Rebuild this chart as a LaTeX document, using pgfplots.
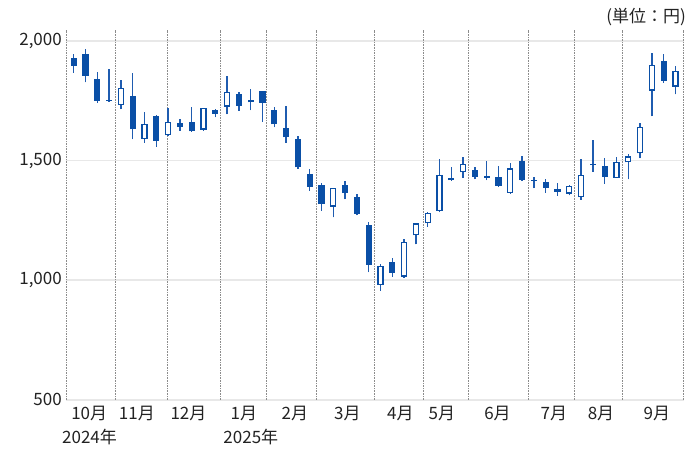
\documentclass[border=0pt]{standalone}
\usepackage{fontspec}
\setmainfont{Noto Sans CJK JP}
\usepackage{pgfplots}
\usepackage{pgfplotstable}
\pgfplotsset{compat=1.18}
\definecolor{cdark}{HTML}{0A4FA6}
\definecolor{cwick}{HTML}{1F5CB0}
\definecolor{gridc}{HTML}{E8E8E8}
\definecolor{divc}{HTML}{8C8C8C}
\definecolor{txt}{HTML}{222222}

% weekly candles: k = week index, O H L C
\pgfplotstableread{
k O H L C
0 1931 1946 1868 1897
1 1945 1969 1828 1856
2 1842 1871 1743 1750
3 1756 1882 1746 1750
5 1772 1866 1590 1631
7 1686 1692 1559 1584
9 1656 1673 1626 1642
10 1661 1726 1621 1623
12 1711 1718 1682 1695
14 1778 1786 1709 1730
16 1792 1793 1663 1743
17 1712 1726 1640 1652
18 1638 1729 1575 1598
19 1590 1603 1467 1472
20 1446 1467 1374 1391
21 1397 1408 1291 1318
23 1397 1416 1338 1364
24 1348 1361 1272 1277
25 1231 1244 1034 1064
27 1075 1094 1015 1031
32 1426 1472 1416 1419
34 1461 1472 1423 1431
35 1437 1499 1419 1428
36 1432 1479 1391 1395
38 1500 1520 1416 1419
39 1421 1433 1385 1415
40 1412 1425 1366 1385
41 1380 1405 1354 1371
44 1488 1587 1454 1482
45 1479 1511 1403 1431
50 1917 1945 1826 1835
}\down

\pgfplotstableread{
k O H L C
4 1733 1838 1716 1803
6 1592 1704 1575 1654
8 1606 1719 1603 1661
11 1630 1722 1626 1722
13 1726 1854 1694 1787
15 1744 1800 1712 1754
22 1308 1385 1263 1385
26 981 1068 956 1061
28 1015 1171 1010 1160
29 1188 1238 1150 1238
30 1238 1284 1224 1280
31 1290 1506 1285 1440
33 1451 1514 1429 1485
37 1366 1492 1361 1468
42 1362 1400 1355 1394
43 1347 1507 1336 1439
46 1428 1517 1428 1496
47 1493 1527 1422 1518
48 1531 1656 1510 1640
49 1793 1952 1687 1902
51 1810 1896 1778 1877
}\up

\pgfplotsset{candle/.style={only marks, mark=*, mark size=0pt,
  mark options={draw=none, fill=none},
  error bars/.cd, y dir=plus, y explicit, error mark=none}}

\begin{document}
\begin{tikzpicture}
\useasboundingbox (0,0) rectangle (692pt,450pt);
\begin{axis}[
  at={(66pt,50.3pt)}, anchor=south west,
  scale only axis,
  x=11.8pt, y=0.239pt,
  xmin=-0.65, xmax=51.7, ymin=500, ymax=2047,
  axis line style={draw=none},
  clip=false,
  ytick={500,1000,1500,2000},
  yticklabels={500,{1,000},{1,500},{2,000}},
  ymajorgrids,
  major grid style={gridc, line width=1.6pt},
  xtick={1.32,5.36,9.73,14.42,18.75,23.19,27.69,31.21,35.92,40.69,44.69,49.43},
  xticklabels={10月,11月,12月,1月,2月,3月,4月,5月,6月,7月,8月,9月},
  major tick length=0pt,
  tick label style={font=\fontsize{17}{20}\selectfont, text=txt},
  xticklabel style={anchor=base, yshift=-19.3pt, inner sep=0pt},
  yticklabel style={anchor=east, inner sep=0pt, xshift=-4pt},
  extra x ticks={-0.65,3.58,7.91,12.40,16.30,20.59,25.51,29.66,33.47,38.53,42.48,46.53,51.7},
  extra x tick labels={},
  extra x tick style={xmajorgrids=true, major grid style={divc, densely dotted, line width=0.9pt}},
]
% wicks
\addplot[candle, error bar style={cwick, line width=1.4pt}]
  table[x=k, y=L, y error plus expr=\thisrow{H}-\thisrow{L}] {\down};
\addplot[candle, error bar style={cwick, line width=1.4pt}]
  table[x=k, y=L, y error plus expr=\thisrow{H}-\thisrow{L}] {\up};
% filled bodies (close < open)
\addplot[candle, error bar style={cdark, line width=6.2pt}]
  table[x=k, y=C, y error plus expr={max(\thisrow{O}-\thisrow{C},6)}] {\down};
% hollow bodies (close > open)
\addplot[candle, error bar style={cdark, line width=6.2pt}]
  table[x=k, y=O, y error plus expr=\thisrow{C}-\thisrow{O}] {\up};
\addplot[candle, error bar style={white, line width=3.8pt}]
  table[x=k, y expr=\thisrow{O}+5, y error plus expr={max(\thisrow{C}-\thisrow{O}-10,0)}] {\up};
% year labels
\node[anchor=base west, inner sep=0pt, font=\fontsize{17}{20}\selectfont, text=txt, yshift=-43.3pt] at (axis cs:-0.99,500) {2024年};
\node[anchor=base west, inner sep=0pt, font=\fontsize{17}{20}\selectfont, text=txt, yshift=-43.3pt] at (axis cs:12.68,500) {2025年};
\end{axis}
\node[anchor=base east, inner sep=0pt, font=\fontsize{17}{20}\selectfont, text=txt] at (686pt,427pt) {(単位：円)};
\end{tikzpicture}
\end{document}
